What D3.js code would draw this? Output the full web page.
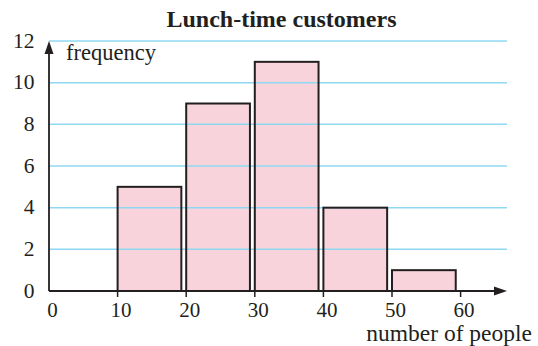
<!DOCTYPE html>
<html>
<head>
<meta charset="utf-8">
<script src="https://cdn.jsdelivr.net/npm/d3@7"></script>
<style>
  html, body { margin: 0; padding: 0; background: #fff; }
  svg { display: block; }
  text { font-family: "Liberation Serif", "DejaVu Serif", serif; fill: #231f20; }
</style>
</head>
<body>
<script>
// Class intervals (lower and upper bounds) and their frequencies
const classLower = [10, 20, 30, 40, 50];
const classUpper = [19, 29, 39, 49, 59];
const frequency = [5, 9, 11, 4, 1];
const xTicks = [0, 10, 20, 30, 40, 50, 60];
const yTicks = [0, 2, 4, 6, 8, 10, 12];

const W = 538, H = 346;
const svg = d3.select("body").append("svg").attr("width", W).attr("height", H);

const x = d3.scaleLinear().domain([0, 60]).range([49, 460.6]);
const y = d3.scaleLinear().domain([0, 12]).range([291, 41]);
const xEnd = 507;
const ink = "#231f20";

// Title
svg.append("text")
  .attr("x", 281.5).attr("y", 26.5)
  .attr("text-anchor", "middle")
  .style("font-weight", "bold").style("font-size", "24px")
  .text("Lunch-time customers");

// Bar fills
svg.append("g").selectAll("rect").data(frequency).join("rect")
  .attr("x", (d, i) => x(classLower[i]))
  .attr("y", d => y(d))
  .attr("width", (d, i) => x(classUpper[i]) - x(classLower[i]) + 2)
  .attr("height", d => y(0) - y(d))
  .attr("fill", "#f8d3db");

// Horizontal grid lines
svg.append("g").selectAll("line").data(yTicks.filter(d => d > 0)).join("line")
  .attr("x1", x(0)).attr("x2", xEnd)
  .attr("y1", d => y(d)).attr("y2", d => y(d))
  .attr("stroke", "#8fd8f2").attr("stroke-width", 1.5);

// Bar outlines
svg.append("g").selectAll("rect").data(frequency).join("rect")
  .attr("x", (d, i) => x(classLower[i]))
  .attr("y", d => y(d))
  .attr("width", (d, i) => x(classUpper[i]) - x(classLower[i]) + 2)
  .attr("height", d => y(0) - y(d))
  .attr("fill", "none")
  .attr("stroke", ink).attr("stroke-width", 2);

// Axes with arrowheads
svg.append("line").attr("x1", x(0)).attr("x2", xEnd - 8)
  .attr("y1", y(0)).attr("y2", y(0)).attr("stroke", ink).attr("stroke-width", 1.8);
svg.append("path")
  .attr("d", `M${xEnd},${y(0)} L${xEnd - 13},${y(0) - 4.5} L${xEnd - 13},${y(0) + 4.5} Z`)
  .attr("fill", ink);
svg.append("line").attr("x1", x(0)).attr("x2", x(0))
  .attr("y1", y(0)).attr("y2", y(12) + 8).attr("stroke", ink).attr("stroke-width", 1.8);
svg.append("path")
  .attr("d", `M${x(0)},${y(12)} L${x(0) - 4.5},${y(12) + 13} L${x(0) + 4.5},${y(12) + 13} Z`)
  .attr("fill", ink);

// X ticks and labels
svg.append("g").selectAll("line").data(xTicks.filter(d => d > 0)).join("line")
  .attr("x1", d => x(d)).attr("x2", d => x(d))
  .attr("y1", y(0)).attr("y2", y(0) + 6)
  .attr("stroke", ink).attr("stroke-width", 1.5);
svg.append("g").selectAll("text").data(xTicks).join("text")
  .attr("x", d => x(d) + 3.5).attr("y", 317)
  .attr("text-anchor", "middle").style("font-size", "21px")
  .text(d => d);

// Y labels
svg.append("g").selectAll("text").data(yTicks).join("text")
  .attr("x", 34.5).attr("y", d => y(d) + 6.5)
  .attr("text-anchor", "end").style("font-size", "21.5px")
  .text(d => d);

// Axis titles
svg.append("text").attr("x", 66).attr("y", 60)
  .style("font-size", "22.5px").text("frequency");
svg.append("text").attr("x", 532).attr("y", 341)
  .attr("text-anchor", "end").style("font-size", "23.5px")
  .text("number of people");
</script>
</body>
</html>
